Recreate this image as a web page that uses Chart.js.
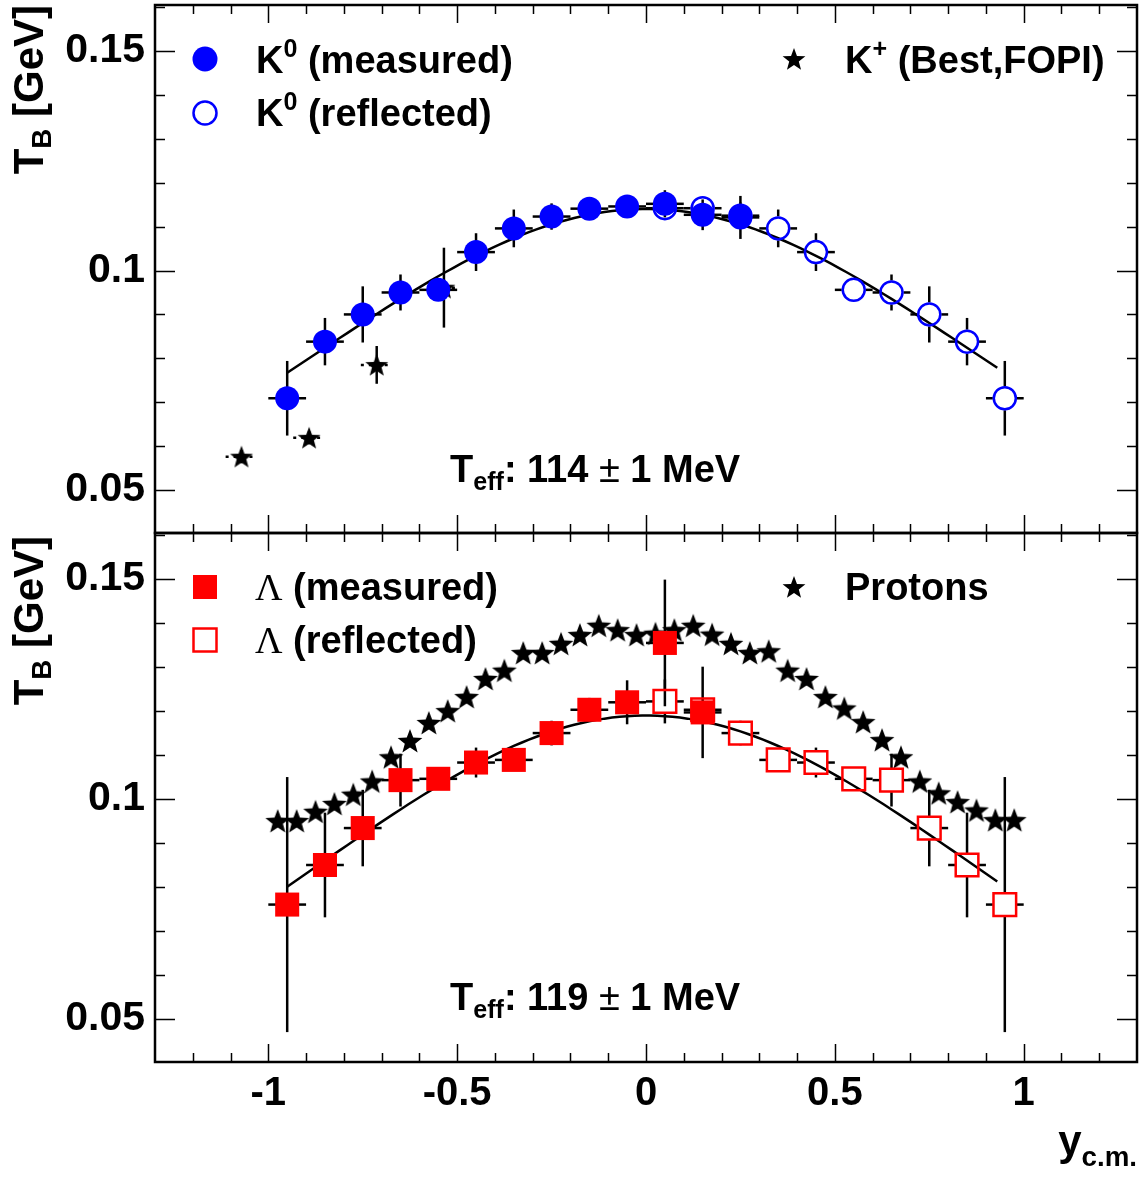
<!DOCTYPE html>
<html>
<head>
<meta charset="utf-8">
<script src="https://cdn.jsdelivr.net/npm/chart.js@4.4.1/dist/chart.umd.min.js"></script>
<style>
  body { margin: 0; background: #fff; }
  #wrap { position: relative; width: 1144px; height: 1178px; overflow: hidden;
          font-family: "Liberation Sans", Arial, sans-serif; font-weight: bold; color: #000; }
  canvas { position: absolute; left: 0; top: 0; }
  .t { position: absolute; white-space: nowrap; line-height: 1; }
  .sup { font-size: 0.66em; position: relative; top: -0.62em; }
  .sub { font-size: 0.66em; position: relative; top: 0.3em; }
  .pm { font-weight: normal; }
  .lam { font-family: "Liberation Serif", "Times New Roman", serif; font-weight: normal; }
  .ytitle { position: absolute; white-space: nowrap; line-height: 1; width: 300px; text-align: right;
            font-size: 42px; transform-origin: 0 0; transform: rotate(-90deg); }
</style>
</head>
<body>
<div id="wrap">
  <canvas id="top" width="1144" height="1178"></canvas>
  <canvas id="bottom" width="1144" height="1178"></canvas>

  <div class="t" style="left:256px; top:41px; font-size:38px;">K<span class="sup">0</span> (measured)</div>
  <div class="t" style="left:256px; top:94px; font-size:38px;">K<span class="sup">0</span> (reflected)</div>
  <div class="t" style="left:845px; top:41px; font-size:38px;">K<span class="sup">+</span> (Best,FOPI)</div>
  <div class="t" style="left:450px; top:450px; font-size:38px;">T<span class="sub">eff</span>: 114 <span class="pm">±</span> 1 MeV</div>

  <div class="t" style="left:255px; top:568px; font-size:38px;"><span class="lam">Λ</span> (measured)</div>
  <div class="t" style="left:255px; top:621px; font-size:38px;"><span class="lam">Λ</span> (reflected)</div>
  <div class="t" style="left:845px; top:568px; font-size:38px;">Protons</div>
  <div class="t" style="left:450px; top:978px; font-size:38px;">T<span class="sub">eff</span>: 119 <span class="pm">±</span> 1 MeV</div>

  <div class="ytitle" style="left:8px; top:305px;">T<span class="sub">B</span> [GeV]</div>
  <div class="ytitle" style="left:8px; top:836px;">T<span class="sub">B</span> [GeV]</div>
  <div class="t" style="right:7px; top:1120px; font-size:42px;">y<span class="sub" style="top:0.4em">c.m.</span></div>
</div>

<script>
// K0 slope parameters vs rapidity
const kMeasX = [-0.95, -0.85, -0.75, -0.65, -0.55, -0.45, -0.35, -0.25, -0.15, -0.05, 0.05, 0.15, 0.25];
const kMeasT = [0.0709, 0.0838, 0.0900, 0.0950, 0.0956, 0.1042, 0.1096, 0.1123, 0.1141, 0.1146, 0.1152, 0.1127, 0.1121];
const kMeasErr = [0.0085, 0.0054, 0.0064, 0.0041, 0.0020, 0.0043, 0.0043, 0.0030, 0.0025, 0.0020, 0.0031, 0.0035, 0.0049];

const kReflX = [0.05, 0.15, 0.25, 0.35, 0.45, 0.55, 0.65, 0.75, 0.85, 0.95];
const kReflT = [0.1142, 0.1142, 0.1125, 0.1096, 0.1042, 0.0956, 0.0950, 0.0900, 0.0838, 0.0709];
const kReflErr = [0.0020, 0.0025, 0.0030, 0.0043, 0.0043, 0.0020, 0.0041, 0.0064, 0.0054, 0.0085];

// K+ (Best, FOPI)
const kPlusX = [-1.071, -0.892, -0.713, -0.535];
const kPlusT = [0.0576, 0.0619, 0.0785, 0.0961];
const kPlusErr = [0.0015, 0.0015, 0.0043, 0.0091];

// Lambda slope parameters
const lamMeasX = [-0.95, -0.85, -0.75, -0.65, -0.55, -0.45, -0.35, -0.25, -0.15, -0.05, 0.05, 0.15];
const lamMeasT = [0.0760, 0.0850, 0.0934, 0.1043, 0.1046, 0.1083, 0.1089, 0.1150, 0.1203, 0.1220, 0.1355, 0.1197];
const lamMeasErr = [0.0290, 0.0119, 0.0087, 0.0060, 0.0025, 0.0034, 0.0020, 0.0028, 0.0027, 0.0050, 0.0144, 0.0104];

const lamReflX = [0.05, 0.15, 0.25, 0.35, 0.45, 0.55, 0.65, 0.75, 0.85, 0.95];
const lamReflT = [0.1222, 0.1203, 0.1150, 0.1089, 0.1083, 0.1046, 0.1043, 0.0934, 0.0850, 0.0760];
const lamReflErr = [0.0050, 0.0027, 0.0028, 0.0020, 0.0034, 0.0025, 0.0060, 0.0087, 0.0119, 0.0290];

// protons
const protonX = [-0.975, -0.925, -0.875, -0.825, -0.775, -0.725, -0.675, -0.625, -0.575, -0.525,
                 -0.475, -0.425, -0.375, -0.325, -0.275, -0.225, -0.175, -0.125, -0.075, -0.025,
                 0.025, 0.075, 0.125, 0.175, 0.225, 0.275, 0.325, 0.375, 0.425, 0.475,
                 0.525, 0.575, 0.625, 0.675, 0.725, 0.775, 0.825, 0.875, 0.925, 0.975];
const protonT = [0.0950, 0.0950, 0.0971, 0.0989, 0.1010, 0.1040, 0.1095, 0.1132, 0.1173, 0.1200,
                 0.1232, 0.1273, 0.1292, 0.1332, 0.1332, 0.1353, 0.1373, 0.1394, 0.1384, 0.1373,
                 0.1376, 0.1384, 0.1394, 0.1374, 0.1353, 0.1332, 0.1336, 0.1292, 0.1273, 0.1232,
                 0.1206, 0.1175, 0.1134, 0.1095, 0.1040, 0.1013, 0.0993, 0.0974, 0.0952, 0.0952];

// fitted T_eff (GeV) for T_B = T_eff / cosh(y)
const teffK0 = 0.114;
const teffLambda = 0.119;
const fitRange = [-0.95, 0.93];

const xTickLabels = [-1, -0.5, 0, 0.5, 1];
const yTickLabels = [0.05, 0.1, 0.15];

const FONT = "'Liberation Sans', Arial, sans-serif";
const BLUE = "#0000ff";
const RED = "#ff0000";

const pts = (xs, ys) => xs.map((x, i) => ({ x: x, y: ys[i] }));

function fitCurve(teff) {
  const out = [];
  for (let i = 0; i <= 94; i++) {
    const y = fitRange[0] + (fitRange[1] - fitRange[0]) * i / 94;
    out.push({ x: y, y: teff / Math.cosh(y) });
  }
  return out;
}

function starImage(r) {
  const c = document.createElement("canvas");
  const s = Math.ceil(2 * r + 2);
  c.width = s;
  c.height = s;
  const g = c.getContext("2d");
  g.translate(s / 2, s / 2 + r * 0.08);
  g.beginPath();
  for (let k = 0; k < 10; k++) {
    const a = -Math.PI / 2 + k * Math.PI / 5;
    const rr = k % 2 ? r * 0.42 : r;
    g.lineTo(rr * Math.cos(a), rr * Math.sin(a));
  }
  g.closePath();
  g.fillStyle = "#000";
  g.fill();
  return c;
}
const star = starImage(13);
const smallStar = starImage(12);

// error bars drawn under the markers, leaving a gap for hollow ones
const errorBars = {
  id: "errorBars",
  beforeDatasetsDraw(chart) {
    const { ctx, chartArea: a, scales: { x, y } } = chart;
    ctx.save();
    ctx.beginPath();
    ctx.rect(a.left, a.top, a.right - a.left, a.bottom - a.top);
    ctx.clip();
    ctx.strokeStyle = "#000";
    ctx.lineWidth = 2.5;
    const seg = (x0, y0, x1, y1) => { ctx.beginPath(); ctx.moveTo(x0, y0); ctx.lineTo(x1, y1); ctx.stroke(); };
    chart.data.datasets.forEach(ds => {
      if (!ds.errY) return;
      const gap = ds.errGap || 0;
      ds.data.forEach((p, i) => {
        const px = x.getPixelForValue(p.x);
        const py = y.getPixelForValue(p.y);
        const xl = x.getPixelForValue(p.x - ds.errX);
        const xr = x.getPixelForValue(p.x + ds.errX);
        const yt = y.getPixelForValue(p.y + ds.errY[i]);
        const yb = y.getPixelForValue(p.y - ds.errY[i]);
        ctx.setLineDash(ds.errDashX || []);
        if (px - gap > xl) seg(xl, py, px - gap, py);
        if (px + gap < xr) seg(px + gap, py, xr, py);
        ctx.setLineDash([]);
        if (py - gap > yt) seg(px, yt, px, py - gap);
        if (py + gap < yb) seg(px, py + gap, px, yb);
      });
    });
    ctx.restore();
  }
};

// frame with inward tick marks on all four sides
const frameTicks = {
  id: "frameTicks",
  afterDraw(chart) {
    const { ctx, chartArea: a, scales: { x, y } } = chart;
    ctx.save();
    ctx.strokeStyle = "#000";
    ctx.lineWidth = 1.5;
    ctx.beginPath();
    for (let i = -13; i <= 13; i++) {
      const px = Math.round(x.getPixelForValue(i / 10)) + 0.5;
      if (px <= a.left + 1 || px >= a.right - 1) continue;
      const len = i % 5 === 0 ? 18 : 9;
      ctx.moveTo(px, a.bottom); ctx.lineTo(px, a.bottom - len);
      ctx.moveTo(px, a.top); ctx.lineTo(px, a.top + len);
    }
    for (let i = 4; i <= 16; i++) {
      const py = Math.round(y.getPixelForValue(i / 100)) + 0.5;
      if (py <= a.top + 1 || py >= a.bottom - 1) continue;
      const len = i % 5 === 0 ? 20 : 10;
      ctx.moveTo(a.left, py); ctx.lineTo(a.left + len, py);
      ctx.moveTo(a.right, py); ctx.lineTo(a.right - len, py);
    }
    ctx.stroke();
    ctx.lineWidth = 2.5;
    ctx.strokeRect(a.left, a.top, a.right - a.left, a.bottom - a.top);
    ctx.restore();
  }
};

// legend symbols next to the html legend text
function legendMarks(items) {
  return {
    id: "legendMarks",
    afterDraw(chart) {
      const ctx = chart.ctx;
      ctx.save();
      items.forEach(m => {
        ctx.lineWidth = 2.5;
        ctx.strokeStyle = m.color;
        ctx.fillStyle = m.color;
        if (m.kind === "star") {
          ctx.drawImage(smallStar, m.x - smallStar.width / 2, m.y - smallStar.height / 2);
        } else if (m.kind === "circle") {
          ctx.beginPath();
          ctx.arc(m.x, m.y, m.filled ? 12.5 : 11.5, 0, 2 * Math.PI);
          m.filled ? ctx.fill() : ctx.stroke();
        } else {
          m.filled ? ctx.fillRect(m.x - 12, m.y - 12, 24, 24) : ctx.strokeRect(m.x - 11.5, m.y - 11.5, 23, 23);
        }
      });
      ctx.restore();
    }
  };
}

const isLabel = (list, v) => list.find(t => Math.abs(t - v) < 1e-6);

// scales reserve no extra room for end labels, so the chart area follows layout.padding
const noScalePadding = s => { s.paddingTop = 0; s.paddingBottom = 0; s.paddingLeft = 0; s.paddingRight = 0; };

function panelOptions(padding, showX) {
  return {
    responsive: false,
    animation: false,
    layout: { padding: padding, autoPadding: false },
    plugins: { legend: { display: false }, tooltip: { enabled: false } },
    scales: {
      x: {
        type: "linear", min: -1.3, max: 1.3,
        grid: { display: false, drawTicks: false },
        border: { display: false },
        ticks: {
          display: showX, stepSize: 0.1, maxTicksLimit: 100, includeBounds: false,
          autoSkip: false, maxRotation: 0, padding: 8,
          color: "#000", font: { family: FONT, size: 40, weight: "bold" },
          callback: v => { const t = isLabel(xTickLabels, v); return t === undefined ? "" : String(t); }
        },
        afterFit: s => { s.height = showX ? 116 : 0; noScalePadding(s); }
      },
      y: {
        type: "linear", min: 0.0402, max: 0.1605,
        grid: { display: false, drawTicks: false },
        border: { display: false },
        ticks: {
          stepSize: 0.01, maxTicksLimit: 100, includeBounds: false, autoSkip: false, padding: 10,
          color: "#000", font: { family: FONT, size: 41, weight: "bold" },
          callback: v => { const t = isLabel(yTickLabels, v); return t === undefined ? "" : String(t); }
        },
        afterFit: s => { s.width = 155; noScalePadding(s); }
      }
    }
  };
}

new Chart(document.getElementById("top"), {
  type: "scatter",
  data: {
    datasets: [
      { data: pts(kMeasX, kMeasT), errX: 0.05, errY: kMeasErr,
        pointStyle: "circle", pointRadius: 12, backgroundColor: BLUE, borderColor: BLUE, borderWidth: 0 },
      { data: pts(kReflX, kReflT), errX: 0.05, errY: kReflErr, errGap: 12,
        pointStyle: "circle", pointRadius: 11, backgroundColor: "rgba(0,0,0,0)", borderColor: BLUE, borderWidth: 2.5 },
      { data: pts(kPlusX, kPlusT), errX: 0.042, errY: kPlusErr, errDashX: [3, 5],
        pointStyle: smallStar },
      { data: fitCurve(teffK0), showLine: true, pointRadius: 0, borderColor: "#000", borderWidth: 2.5, tension: 0 }
    ]
  },
  options: panelOptions({ left: 0, top: 5, right: 7, bottom: 645 }, false),
  plugins: [errorBars, frameTicks, legendMarks([
    { kind: "circle", filled: true, color: BLUE, x: 205, y: 59 },
    { kind: "circle", filled: false, color: BLUE, x: 205, y: 113 },
    { kind: "star", x: 794, y: 59 }
  ])]
});

new Chart(document.getElementById("bottom"), {
  type: "scatter",
  data: {
    datasets: [
      { data: pts(lamMeasX, lamMeasT), errX: 0.05, errY: lamMeasErr,
        pointStyle: "rect", pointRadius: 17, backgroundColor: RED, borderColor: RED, borderWidth: 0 },
      { data: pts(lamReflX, lamReflT), errX: 0.05, errY: lamReflErr, errGap: 12,
        pointStyle: "rect", pointRadius: 16, backgroundColor: "rgba(0,0,0,0)", borderColor: RED, borderWidth: 2.5 },
      { data: pts(protonX, protonT), pointStyle: star },
      { data: fitCurve(teffLambda), showLine: true, pointRadius: 0, borderColor: "#000", borderWidth: 2.5, tension: 0 }
    ]
  },
  options: panelOptions({ left: 0, top: 533, right: 7, bottom: 0 }, true),
  plugins: [errorBars, frameTicks, legendMarks([
    { kind: "square", filled: true, color: RED, x: 205, y: 587 },
    { kind: "square", filled: false, color: RED, x: 205, y: 640 },
    { kind: "star", x: 794, y: 587 }
  ])]
});
</script>
</body>
</html>
